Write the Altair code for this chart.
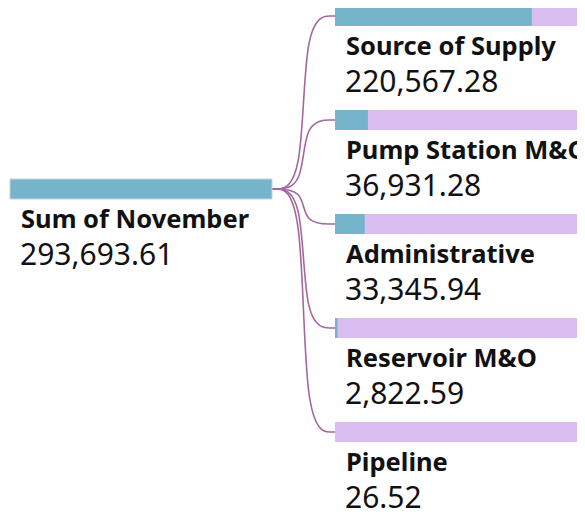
import altair as alt
import pandas as pd

# ---- data ----
root_label = "Sum of November"
root_value = 293693.61
child_labels = ["Source of Supply", "Pump Station M&O", "Administrative", "Reservoir M&O", "Pipeline"]
child_values = [220567.28, 36931.28, 33345.94, 2822.59, 26.52]

# ---- layout constants (pixels) ----
W, H = 569, 500
BAR_PX = 262          # width of a full (100%) bar
X0_PX = 2             # left of root bar
CHILD_X_PX = 327      # left of child bars
ROW_PX = 104          # spacing between child rows
ROW0_PX = 8           # center of first child bar
ROOT_Y_PX = 181       # center of root bar
BAR_H_PX = 20

BLUE = "#76b4cb"
PURPLE = "#d9bdf1"
LINK = "#a4679f"
FONT = "Noto Sans"

x_domain = [-X0_PX / BAR_PX, (W - X0_PX) / BAR_PX]
lvl1 = (CHILD_X_PX - X0_PX) / BAR_PX
y_domain = [-ROW0_PX / ROW_PX, (H - ROW0_PX) / ROW_PX]
root_slot = (ROOT_Y_PX - ROW0_PX) / ROW_PX
half = BAR_H_PX / 2 / ROW_PX

nodes = pd.DataFrame({
    "label": [root_label] + child_labels,
    "value": [root_value] + child_values,
    "lx": [0.0] + [lvl1] * len(child_labels),
    "slot": [root_slot] + list(range(len(child_labels))),
    "root": [True] + [False] * len(child_labels),
})

links = []
for i, lab in enumerate(child_labels):
    mid = (1 + lvl1) / 2
    pts = [(1.0, root_slot), (mid, root_slot), (mid, i), (lvl1, i)]
    for j, (px, py) in enumerate(pts):
        links.append({"target": lab, "o": j, "x": px, "y": py})
links = pd.DataFrame(links)

xs = alt.Scale(domain=x_domain, nice=False, zero=False)
ys = alt.Scale(domain=y_domain, nice=False, zero=False, reverse=True)

base = alt.Chart(nodes).transform_calculate(
    xend="datum.lx + datum.value / " + str(root_value),
    xfull="datum.lx + 1",
    y1="datum.slot - " + str(half),
    y2="datum.slot + " + str(half),
)

bg = base.transform_filter("!datum.root").mark_rect(color=PURPLE, clip=True).encode(
    x=alt.X("lx:Q", scale=xs, axis=None),
    x2="xfull:Q",
    y=alt.Y("y1:Q", scale=ys, axis=None),
    y2="y2:Q",
)

fg_child = base.transform_filter("!datum.root").mark_rect(color=BLUE, clip=True).encode(
    x=alt.X("lx:Q", scale=xs, axis=None),
    x2="xend:Q",
    y=alt.Y("y1:Q", scale=ys, axis=None),
    y2="y2:Q",
)

fg_root = base.transform_filter("datum.root").mark_rect(
    color=BLUE, stroke="#cfcfcf", strokeWidth=1
).encode(
    x=alt.X("lx:Q", scale=xs, axis=None),
    x2="xend:Q",
    y=alt.Y("y1:Q", scale=ys, axis=None),
    y2="y2:Q",
)

curves = alt.Chart(links).mark_line(
    interpolate="basis", color=LINK, strokeWidth=1.6
).encode(
    x=alt.X("x:Q", scale=xs, axis=None),
    y=alt.Y("y:Q", scale=ys, axis=None),
    detail="target:N",
    order="o:Q",
)

names = base.mark_text(
    align="left", baseline="alphabetic", dx=11, dy=39, font=FONT,
    fontSize=25.5, fontWeight="bold", color="#111111"
).encode(
    x=alt.X("lx:Q", scale=xs, axis=None),
    y=alt.Y("slot:Q", scale=ys, axis=None),
    text="label:N",
)

vals = base.mark_text(
    align="left", baseline="alphabetic", dx=10, dy=76, font=FONT,
    fontSize=30, color="#111111"
).encode(
    x=alt.X("lx:Q", scale=xs, axis=None),
    y=alt.Y("slot:Q", scale=ys, axis=None),
    text=alt.Text("value:Q", format=",.2f"),
)

chart = alt.layer(bg, fg_child, curves, fg_root, names, vals).properties(
    width=W, height=H, padding=0, autosize=alt.AutoSizeParams(type="none"),
    background="white",
).configure_view(stroke=None)

chart.save("out.html", embed_options={"renderer": "svg", "actions": False})
